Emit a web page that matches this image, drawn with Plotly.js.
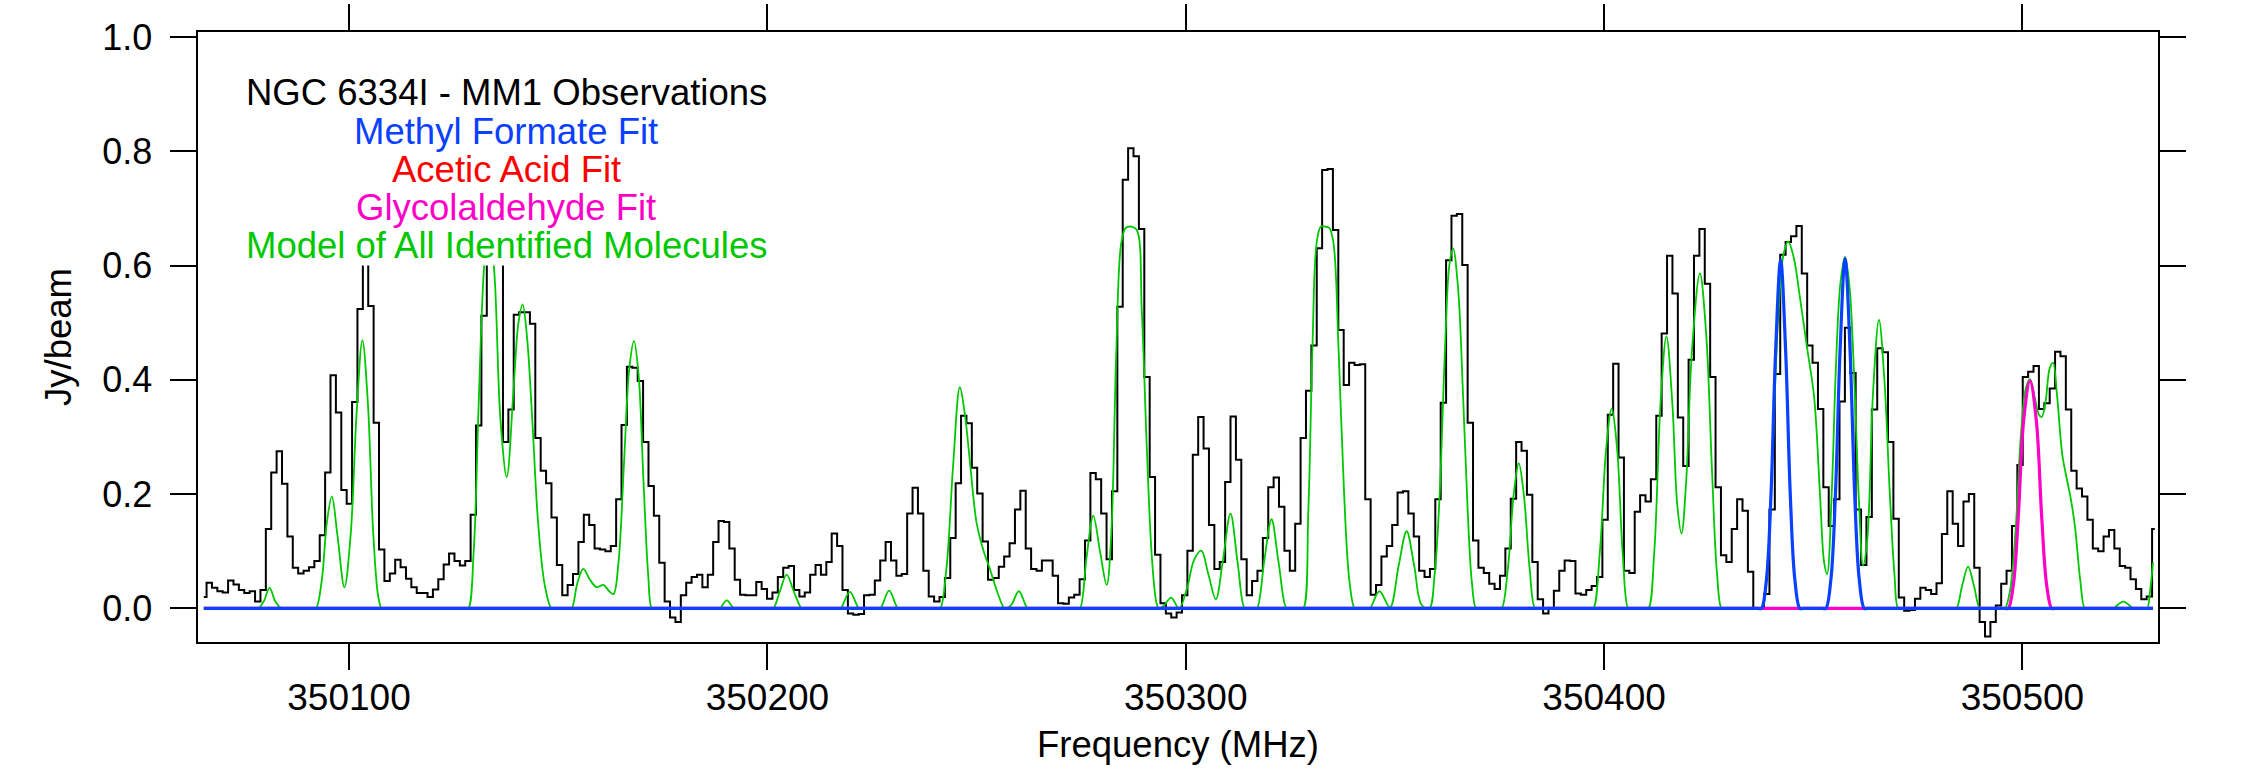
<!DOCTYPE html>
<html>
<head>
<meta charset="utf-8">
<script src="https://cdn.plot.ly/plotly-3.0.1.min.js"></script>
<style>
  html, body { margin: 0; padding: 0; background: #ffffff; }
  #chart { width: 2241px; height: 770px; }
</style>
</head>
<body>
<div id="chart"></div>
<script>
// Spectrometer channel grid (MHz): centre of the first channel and channel spacing
const chanStartMHz = 350065.3;
const chanWidthMHz = 1.2882;

// Observed flux density per channel (Jy/beam), NGC 6334I MM1
const observedFlux = [
  // 0
  0.020, 0.045, 0.036, 0.030, 0.028, 0.049, 0.042, 0.032, 0.027, 0.030,
  0.012, 0.032, 0.139, 0.238, 0.275, 0.218, 0.126, 0.071, 0.061, 0.066,
  0.072, 0.083, 0.128, 0.238, 0.408, 0.343, 0.207, 0.183, 0.361, 0.524,
  0.700, 0.529, 0.325, 0.103, 0.048, 0.061, 0.085, 0.072, 0.052, 0.037,
  0.027, 0.027, 0.020, 0.033, 0.051, 0.077, 0.096, 0.083, 0.075, 0.083,
  0.164, 0.320, 0.512,
  // 53
  0.660, 0.700, 0.640,
  // 56
  0.291, 0.348, 0.514, 0.518, 0.518, 0.498, 0.298, 0.241, 0.219, 0.159,
  0.076, 0.023, 0.041, 0.060, 0.116, 0.164, 0.146, 0.105, 0.103, 0.100,
  0.109, 0.191, 0.321, 0.423, 0.421, 0.398, 0.291, 0.214, 0.162, 0.080,
  0.012, -0.016, -0.024, 0.023, 0.045,
  // 91
  0.055, 0.059, 0.037, 0.059,
  // 95
  0.116, 0.153, 0.151, 0.105, 0.050, 0.024, 0.023, 0.023, 0.046, 0.034,
  0.017, 0.028, 0.055, 0.071, 0.074, 0.032, 0.021, 0.028, 0.059, 0.076,
  0.059, 0.081, 0.131, 0.109, 0.032, -0.009, -0.011, -0.010, 0.023, 0.024,
  0.049, 0.084, 0.116, 0.084, 0.057, 0.060, 0.166, 0.211, 0.166, 0.066,
  0.021, 0.012, 0.020, 0.053, 0.123,
  // 140
  0.219, 0.337, 0.324, 0.246, 0.201, 0.117, 0.050, 0.053, 0.073, 0.091,
  0.114, 0.173, 0.206, 0.105, 0.069, 0.066, 0.084, 0.084, 0.057, 0.009,
  0.008, 0.019, 0.024, 0.051, 0.119, 0.237, 0.226, 0.166, 0.086, 0.205,
  0.528, 0.750, 0.805, 0.791, 0.664, 0.405, 0.230, 0.094, 0.009, -0.009,
  -0.016, -0.007, 0.023, 0.101, 0.269, 0.335, 0.280,
  // 187
  0.146, 0.069, 0.081, 0.221, 0.336, 0.260, 0.086, 0.023, 0.048, 0.066,
  0.123, 0.212, 0.229, 0.178, 0.101, 0.066, 0.148, 0.298, 0.381, 0.460,
  0.630, 0.767, 0.769, 0.662, 0.487, 0.391, 0.430, 0.426, 0.427, 0.191,
  0.024, 0.041, 0.091, 0.109, 0.146, 0.203, 0.205, 0.166, 0.126, 0.066,
  0.055, 0.069, 0.191, 0.360, 0.609,
  // 232
  0.687, 0.690, 0.601, 0.325, 0.119, 0.071, 0.062, 0.043, 0.034, 0.057,
  0.105, 0.192, 0.291, 0.276, 0.199, 0.081, 0.016, -0.009, -0.001, 0.031,
  0.066, 0.084, 0.083, 0.026, 0.024, 0.032, 0.039, 0.055, 0.155, 0.339,
  0.428, 0.264, 0.066, 0.062, 0.169, 0.198, 0.187, 0.226, 0.337, 0.481,
  0.617, 0.551, 0.334, 0.249, 0.435, 0.617, 0.664, 0.568,
  // 280
  0.405, 0.212, 0.093, 0.081, 0.139, 0.191, 0.171, 0.064, 0.000, 0.000,
  0.025, 0.173, 0.410, 0.619, 0.641, 0.651, 0.669, 0.586, 0.460, 0.430,
  0.349, 0.212, 0.144, 0.191, 0.362, 0.491, 0.412, 0.173, 0.076, 0.160,
  0.348, 0.455, 0.448, 0.291, 0.157, 0.019, -0.004, -0.003, 0.017, 0.036,
  0.032, 0.025, 0.044, 0.130, 0.205, 0.148,
  // 326
  0.109, 0.187, 0.200, 0.071, -0.024, -0.049, -0.024, 0.005, 0.043, 0.066,
  0.144, 0.251, 0.405, 0.414, 0.424, 0.349, 0.359, 0.385, 0.449, 0.441,
  0.348, 0.241, 0.210, 0.196, 0.155, 0.105, 0.100, 0.126, 0.137, 0.105,
  0.074, 0.071, 0.051, 0.034, 0.016, 0.021, 0.139
];

// Model of all identified molecules
const modelFreq = [
  350065.3, 350077.5,
  350078.3, 350079.6, 350081.0, 350082.4, 350083.9, 350084.7, 350091.3,
  350092.1, 350093.5, 350094.7, 350095.9, 350097.2, 350098.9, 350100.4, 350101.8, 350103.2, 350104.5, 350105.8, 350107.0, 350107.8, 350108.6, 350127.7,
  350128.5, 350129.8, 350131.0, 350132.3, 350133.5, 350134.8, 350136.2, 350137.7, 350139.3, 350140.5, 350141.5, 350142.6, 350143.8, 350145.2, 350146.8, 350148.4, 350149.2, 350152.4,
  350153.2, 350154.6, 350156.0, 350157.6, 350159.2, 350160.8, 350162.2, 350163.2, 350164.4, 350165.7, 350167.0, 350168.1, 350169.2, 350170.4, 350171.5, 350172.4, 350173.2, 350187.8,
  350188.6, 350190.3, 350192.0, 350192.8, 350200.6,
  350201.4, 350203.0, 350204.6, 350206.3, 350208.2, 350209.0, 350216.7,
  350217.5, 350219.7, 350221.9, 350222.7, 350226.2,
  350227.0, 350229.1, 350231.2, 350232.0, 350240.5,
  350241.3, 350242.8, 350244.4, 350246.0, 350247.2, 350248.5, 350250.0, 350251.7, 350253.2, 350254.9, 350256.8, 350258.3, 350260.1, 350262.2, 350263.0, 350273.9,
  350274.7, 350276.3, 350277.9, 350279.5, 350281.1, 350282.2, 350283.4, 350284.6, 350285.7, 350287.0, 350288.3, 350289.5, 350290.7, 350291.9, 350293.0, 350293.6,
  350294.8, 350296.5, 350298.4, 350300.3, 350302.0, 350303.7, 350305.4, 350307.2, 350308.9, 350310.7, 350312.4, 350314.1, 350314.9, 350316.2,
  350317.0, 350318.8, 350320.5, 350322.2, 350324.1, 350324.9, 350327.3,
  350328.1, 350329.3, 350330.3, 350331.3, 350332.3, 350333.3, 350334.3, 350335.3, 350336.5, 350337.8, 350339.1, 350340.4, 350341.2, 350343.2,
  350344.0, 350346.3, 350348.8, 350350.9, 350352.8, 350354.6, 350356.4, 350358.2,
  350359.5, 350360.7, 350361.9, 350363.0, 350363.9, 350365.1, 350366.3, 350367.4, 350368.4, 350369.4, 350370.2, 350374.7,
  350375.5, 350377.0, 350378.4, 350379.6, 350380.8, 350382.2, 350383.5, 350384.3, 350396.6,
  350397.4, 350399.0, 350400.5, 350401.8, 350403.1, 350404.5, 350405.8, 350406.6, 350409.8,
  350410.6, 350412.0, 350413.5, 350414.9, 350416.3, 350417.5, 350418.5, 350419.6, 350421.0, 350422.9, 350424.4, 350425.8, 350427.0, 350428.1, 350428.9, 350437.0,
  350437.8, 350439.1, 350440.4, 350441.7, 350442.9, 350444.0, 350445.3, 350446.7, 350448.4, 350450.2, 350451.6, 350452.6, 350453.3,
  350454.4, 350455.4, 350456.5, 350457.6, 350458.7, 350459.8, 350460.9, 350461.9, 350462.9, 350464.3, 350465.7, 350467.0, 350468.3, 350469.4, 350470.3, 350471.1, 350483.4,
  350484.2, 350485.6, 350487.0, 350488.4, 350489.8, 350490.6, 350495.0,
  350495.8, 350497.0, 350498.3, 350499.6, 350500.8, 350501.8, 350502.9, 350504.0, 350504.6, 350505.5, 350506.5, 350507.3, 350508.3, 350509.5, 350510.5, 350511.6, 350512.6, 350513.8, 350514.9, 350515.7, 350520.9,
  350521.7, 350524.1, 350526.5, 350527.3, 350529.0, 350529.8, 350530.5, 350531.2
];
const modelFlux = [
  0, 0,
  0, 0.012, 0.036, 0.012, 0, 0, 0,
  0, 0.05, 0.15, 0.196, 0.13, 0.037, 0.13, 0.34, 0.469, 0.36, 0.13, 0.02, 0, 0, 0,
  0, 0.1, 0.36, 0.6, 0.68, 0.58, 0.33, 0.23, 0.38, 0.5, 0.532, 0.47, 0.33, 0.15, 0.04, 0, 0, 0,
  0, 0.045, 0.069, 0.05, 0.037, 0.041, 0.03, 0.025, 0.08, 0.25, 0.42, 0.468, 0.41, 0.22, 0.06, 0, 0, 0,
  0, 0.014, 0, 0, 0,
  0, 0.03, 0.059, 0.03, 0, 0, 0,
  0, 0.029, 0, 0, 0,
  0, 0.031, 0, 0, 0,
  0, 0.07, 0.25, 0.387, 0.34, 0.25, 0.15, 0.1, 0.069, 0.03, 0, 0.006, 0.03, 0, 0, 0,
  0, 0.09, 0.162, 0.1, 0.041, 0.13, 0.45, 0.64, 0.666, 0.668, 0.662, 0.52, 0.28, 0.09, 0.01, 0,
  0.005, 0.019, 0, 0.035, 0.085, 0.101, 0.06, 0.016, 0.085, 0.166, 0.08, 0, 0, 0,
  0, 0.085, 0.156, 0.08, 0, 0, 0,
  0, 0.17, 0.46, 0.64, 0.668, 0.668, 0.666, 0.64, 0.46, 0.21, 0.05, 0, 0, 0,
  0, 0.03, 0.002, 0.075, 0.135, 0.075, 0.006, 0,
  0.06, 0.2, 0.44, 0.6, 0.63, 0.56, 0.37, 0.17, 0.045, 0, 0, 0,
  0, 0.07, 0.2, 0.254, 0.2, 0.07, 0, 0, 0,
  0, 0.1, 0.28, 0.349, 0.28, 0.09, 0, 0, 0,
  0, 0.1, 0.36, 0.476, 0.36, 0.18, 0.131, 0.22, 0.45, 0.586, 0.48, 0.24, 0.06, 0, 0, 0,
  0, 0.08, 0.3, 0.52, 0.62, 0.642, 0.615, 0.55, 0.462, 0.37, 0.2, 0.08, 0.06,
  0.2, 0.42, 0.57, 0.615, 0.56, 0.4, 0.19, 0.075, 0.12, 0.38, 0.505, 0.4, 0.2, 0.06, 0, 0, 0,
  0, 0.04, 0.073, 0.04, 0, 0, 0,
  0, 0.03, 0.13, 0.3, 0.385, 0.401, 0.37, 0.338, 0.335, 0.36, 0.42, 0.43, 0.37, 0.27, 0.23, 0.19, 0.14, 0.05, 0, 0, 0,
  0, 0.012, 0, 0, 0, 0, 0.03, 0.08
];

// Methyl formate fit
const mfFreq = [350065.3, 350436.8,
                350437.6, 350438.8, 350439.9, 350441.0, 350442.2, 350443.4, 350444.5, 350445.6, 350446.8, 350447.6,
                350452.2, 350453.0, 350454.2, 350455.3, 350456.4, 350457.6, 350458.8, 350459.9, 350461.0, 350462.2, 350463.0,
                350531.2];
const mfFlux = [0, 0,
                0, 0.05, 0.2, 0.45, 0.61, 0.45, 0.2, 0.05, 0, 0,
                0, 0, 0.05, 0.2, 0.45, 0.612, 0.45, 0.2, 0.05, 0, 0,
                0];

// Acetic acid fit
const aaFreq = [350065.3, 350531.2];
const aaFlux = [0, 0];

// Glycolaldehyde fit
const gaFreq = [350065.3, 350495.8, 350496.6, 350497.8, 350499.0, 350500.3, 350501.8, 350503.3, 350504.6, 350505.8, 350507.0, 350507.8, 350531.2];
const gaFlux = [0, 0, 0, 0.04, 0.16, 0.33, 0.398, 0.33, 0.16, 0.04, 0, 0, 0];

// Axis ticks
const freqTicks = [350100, 350200, 350300, 350400, 350500];
const fluxTicks = [0.0, 0.2, 0.4, 0.6, 0.8, 1.0];

// Key lines (text, colour)
const keyLines = [
  ['NGC 6334I - MM1 Observations', '#000000'],
  ['Methyl Formate Fit', '#0a40ff'],
  ['Acetic Acid Fit', '#ff0000'],
  ['Glycolaldehyde Fit', '#ff00c8'],
  ['Model of All Identified Molecules', '#00c800']
];

const chanFreq = observedFlux.map((_, k) => chanStartMHz + k * chanWidthMHz);

const FONT = 'Liberation Sans, Arial, Helvetica, sans-serif';

const traces = [
  { x: chanFreq, y: observedFlux, type: 'scatter', mode: 'lines',
    line: { shape: 'hvh', color: '#000000', width: 2 }, hoverinfo: 'skip' },
  { x: modelFreq, y: modelFlux, type: 'scatter', mode: 'lines',
    line: { shape: 'spline', smoothing: 1, color: '#00c800', width: 1.8 }, hoverinfo: 'skip' },
  { x: aaFreq, y: aaFlux, type: 'scatter', mode: 'lines',
    line: { color: '#ff0000', width: 3 }, hoverinfo: 'skip' },
  { x: gaFreq, y: gaFlux, type: 'scatter', mode: 'lines',
    line: { shape: 'spline', smoothing: 1, color: '#ff00c8', width: 3.2 }, hoverinfo: 'skip' },
  { x: mfFreq, y: mfFlux, type: 'scatter', mode: 'lines',
    line: { shape: 'spline', smoothing: 1, color: '#0a40ff', width: 3.2 }, hoverinfo: 'skip' }
];

// plot area in pixels: x 198..2158, y 32..642
const plotTop = 32, plotH = 610, plotLeft = 198, plotW = 1960;
const keyCentreX = 506;
const keyFirstRowY = 92.8, keyRowPitch = 38.2;

const annotations = keyLines.map((ln, i) => ({
  xref: 'paper', yref: 'paper',
  x: (keyCentreX - plotLeft) / plotW,
  y: 1 - (keyFirstRowY + i * keyRowPitch - plotTop) / plotH,
  xanchor: 'center', yanchor: 'middle',
  text: ln[0], showarrow: false,
  font: { family: FONT, size: 36.5, color: ln[1] }
}));

annotations.push({
  xref: 'paper', yref: 'paper', x: 0.5, y: 1 - (744 - plotTop) / plotH,
  xanchor: 'center', yanchor: 'middle', showarrow: false,
  text: 'Frequency (MHz)', font: { family: FONT, size: 36.5, color: '#000' }
});
annotations.push({
  xref: 'paper', yref: 'paper', x: (58 - plotLeft) / plotW, y: 0.5,
  xanchor: 'center', yanchor: 'middle', showarrow: false, textangle: -90,
  text: 'Jy/beam', font: { family: FONT, size: 36.5, color: '#000' }
});

const axisCommon = {
  showline: true, linecolor: '#000', linewidth: 2.4, mirror: 'allticks',
  ticks: 'outside', ticklen: 26, tickwidth: 2, tickcolor: '#000',
  showgrid: false, zeroline: false, fixedrange: true
};

const layout = {
  width: 2241, height: 770,
  margin: { l: plotLeft, r: 2241 - plotLeft - plotW, t: plotTop, b: 770 - plotTop - plotH },
  paper_bgcolor: '#ffffff', plot_bgcolor: '#ffffff',
  showlegend: false,
  font: { family: FONT, color: '#000' },
  xaxis: Object.assign({}, axisCommon, {
    range: [350063.9, 350532.4], tickmode: 'array', tickvals: freqTicks,
    ticktext: freqTicks.map(String), ticklabelstandoff: -5,
    tickfont: { family: FONT, size: 37, color: '#000' }
  }),
  yaxis: Object.assign({}, axisCommon, {
    range: [-0.0588, 1.0086], tickmode: 'array', tickvals: fluxTicks,
    ticktext: fluxTicks.map(v => v.toFixed(1)), ticklabelstandoff: 10,
    tickfont: { family: FONT, size: 36, color: '#000' }
  }),
  shapes: [{
    // opaque backing of the key box
    type: 'rect', xref: 'x', yref: 'y', layer: 'above',
    x0: 350070.4, x1: 350205.4, y0: 0.600, y1: 0.995,
    fillcolor: '#ffffff', line: { width: 0 }
  }],
  annotations: annotations
};

Plotly.newPlot('chart', traces, layout, { staticPlot: true, displayModeBar: false });
</script>
</body>
</html>
